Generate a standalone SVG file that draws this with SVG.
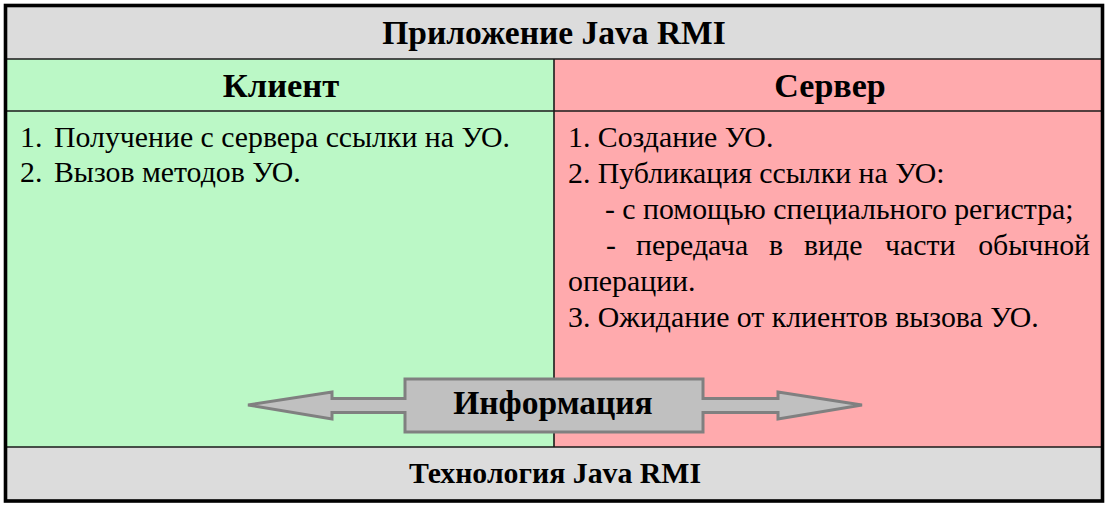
<svg xmlns="http://www.w3.org/2000/svg" width="1111" height="508" viewBox="0 0 1111 508">
  <style>
    .band { fill: #dcdcdc; }
    .client { fill: #bbf8c6; }
    .server { fill: #ffaaad; }
    .rule { stroke: #1a1a1a; stroke-width: 1.6; fill: none; }
    .frame { stroke: #000; stroke-width: 3.6; fill: none; }
    .head { font-family: "Liberation Serif", "Times New Roman", serif; font-weight: bold; fill: #000; text-anchor: middle; }
    .body { font-family: "Liberation Serif", "Times New Roman", serif; font-size: 29.8px; fill: #000; }
    .arrow { fill: #c0c0c0; stroke: #808080; stroke-width: 3; stroke-linejoin: miter; }
  </style>

  <!-- background regions -->
  <rect class="band" x="5" y="5" width="1098" height="54"/>
  <rect class="client" x="5" y="59" width="549" height="388"/>
  <rect class="server" x="554" y="59" width="549" height="388"/>
  <rect class="band" x="5" y="447" width="1098" height="54"/>

  <!-- title: application layer -->
  <g id="app-title">
    <text class="head" x="554" y="44" font-size="33.5">Приложение Java RMI</text>
  </g>

  <!-- client column -->
  <g id="client">
    <text class="head" x="281" y="97" font-size="34.5">Клиент</text>
    <text class="body" x="20" y="147">1.</text>
    <text class="body" x="54" y="147">Получение с сервера ссылки на УО.</text>
    <text class="body" x="20" y="182">2.</text>
    <text class="body" x="54" y="182">Вызов методов УО.</text>
  </g>

  <!-- server column -->
  <g id="server">
    <text class="head" x="830" y="97" font-size="34">Сервер</text>
    <text class="body" x="568" y="147">1. Создание УО.</text>
    <text class="body" x="568" y="183">2. Публикация ссылки на УО:</text>
    <text class="body" x="605" y="219">- с помощью специального регистра;</text>
    <!-- justified line: words spread evenly between 606 and 1090 -->
    <text class="body" y="255"><tspan x="606">-</tspan><tspan x="636">передача</tspan><tspan x="769">в</tspan><tspan x="804">виде</tspan><tspan x="885">части</tspan></text>
    <text class="body" x="1090" y="255" text-anchor="end">обычной</text>
    <text class="body" x="568" y="291">операции.</text>
    <text class="body" x="568" y="327">3. Ожидание от клиентов вызова УО.</text>
  </g>

  <!-- grid rules -->
  <g id="rules">
    <line class="rule" x1="5" y1="59" x2="1103" y2="59"/>
    <line class="rule" x1="5" y1="111" x2="1103" y2="111"/>
    <line class="rule" x1="554" y1="59" x2="554" y2="447"/>
    <line class="rule" x1="5" y1="447" x2="1103" y2="447"/>
  </g>

  <!-- two-way information exchange arrow -->
  <g id="connectors">
    <path class="arrow" d="M248,405 L332,392 L332,398.5 L405,398.5 L405,379 L703,379 L703,398.5 L778,398.5 L778,392 L862,405 L778,419 L778,412.5 L703,412.5 L703,432 L405,432 L405,412.5 L332,412.5 L332,419 Z"/>
  </g>
  <g id="info">
    <text class="head" x="553" y="414" font-size="33.5">Информация</text>
  </g>

  <!-- technology layer -->
  <g id="tech-title">
    <text class="head" x="555" y="483" font-size="29.8">Технология Java RMI</text>
  </g>

  <!-- outer frame -->
  <rect class="frame" x="5.5" y="5.5" width="1097" height="495.5"/>
</svg>
